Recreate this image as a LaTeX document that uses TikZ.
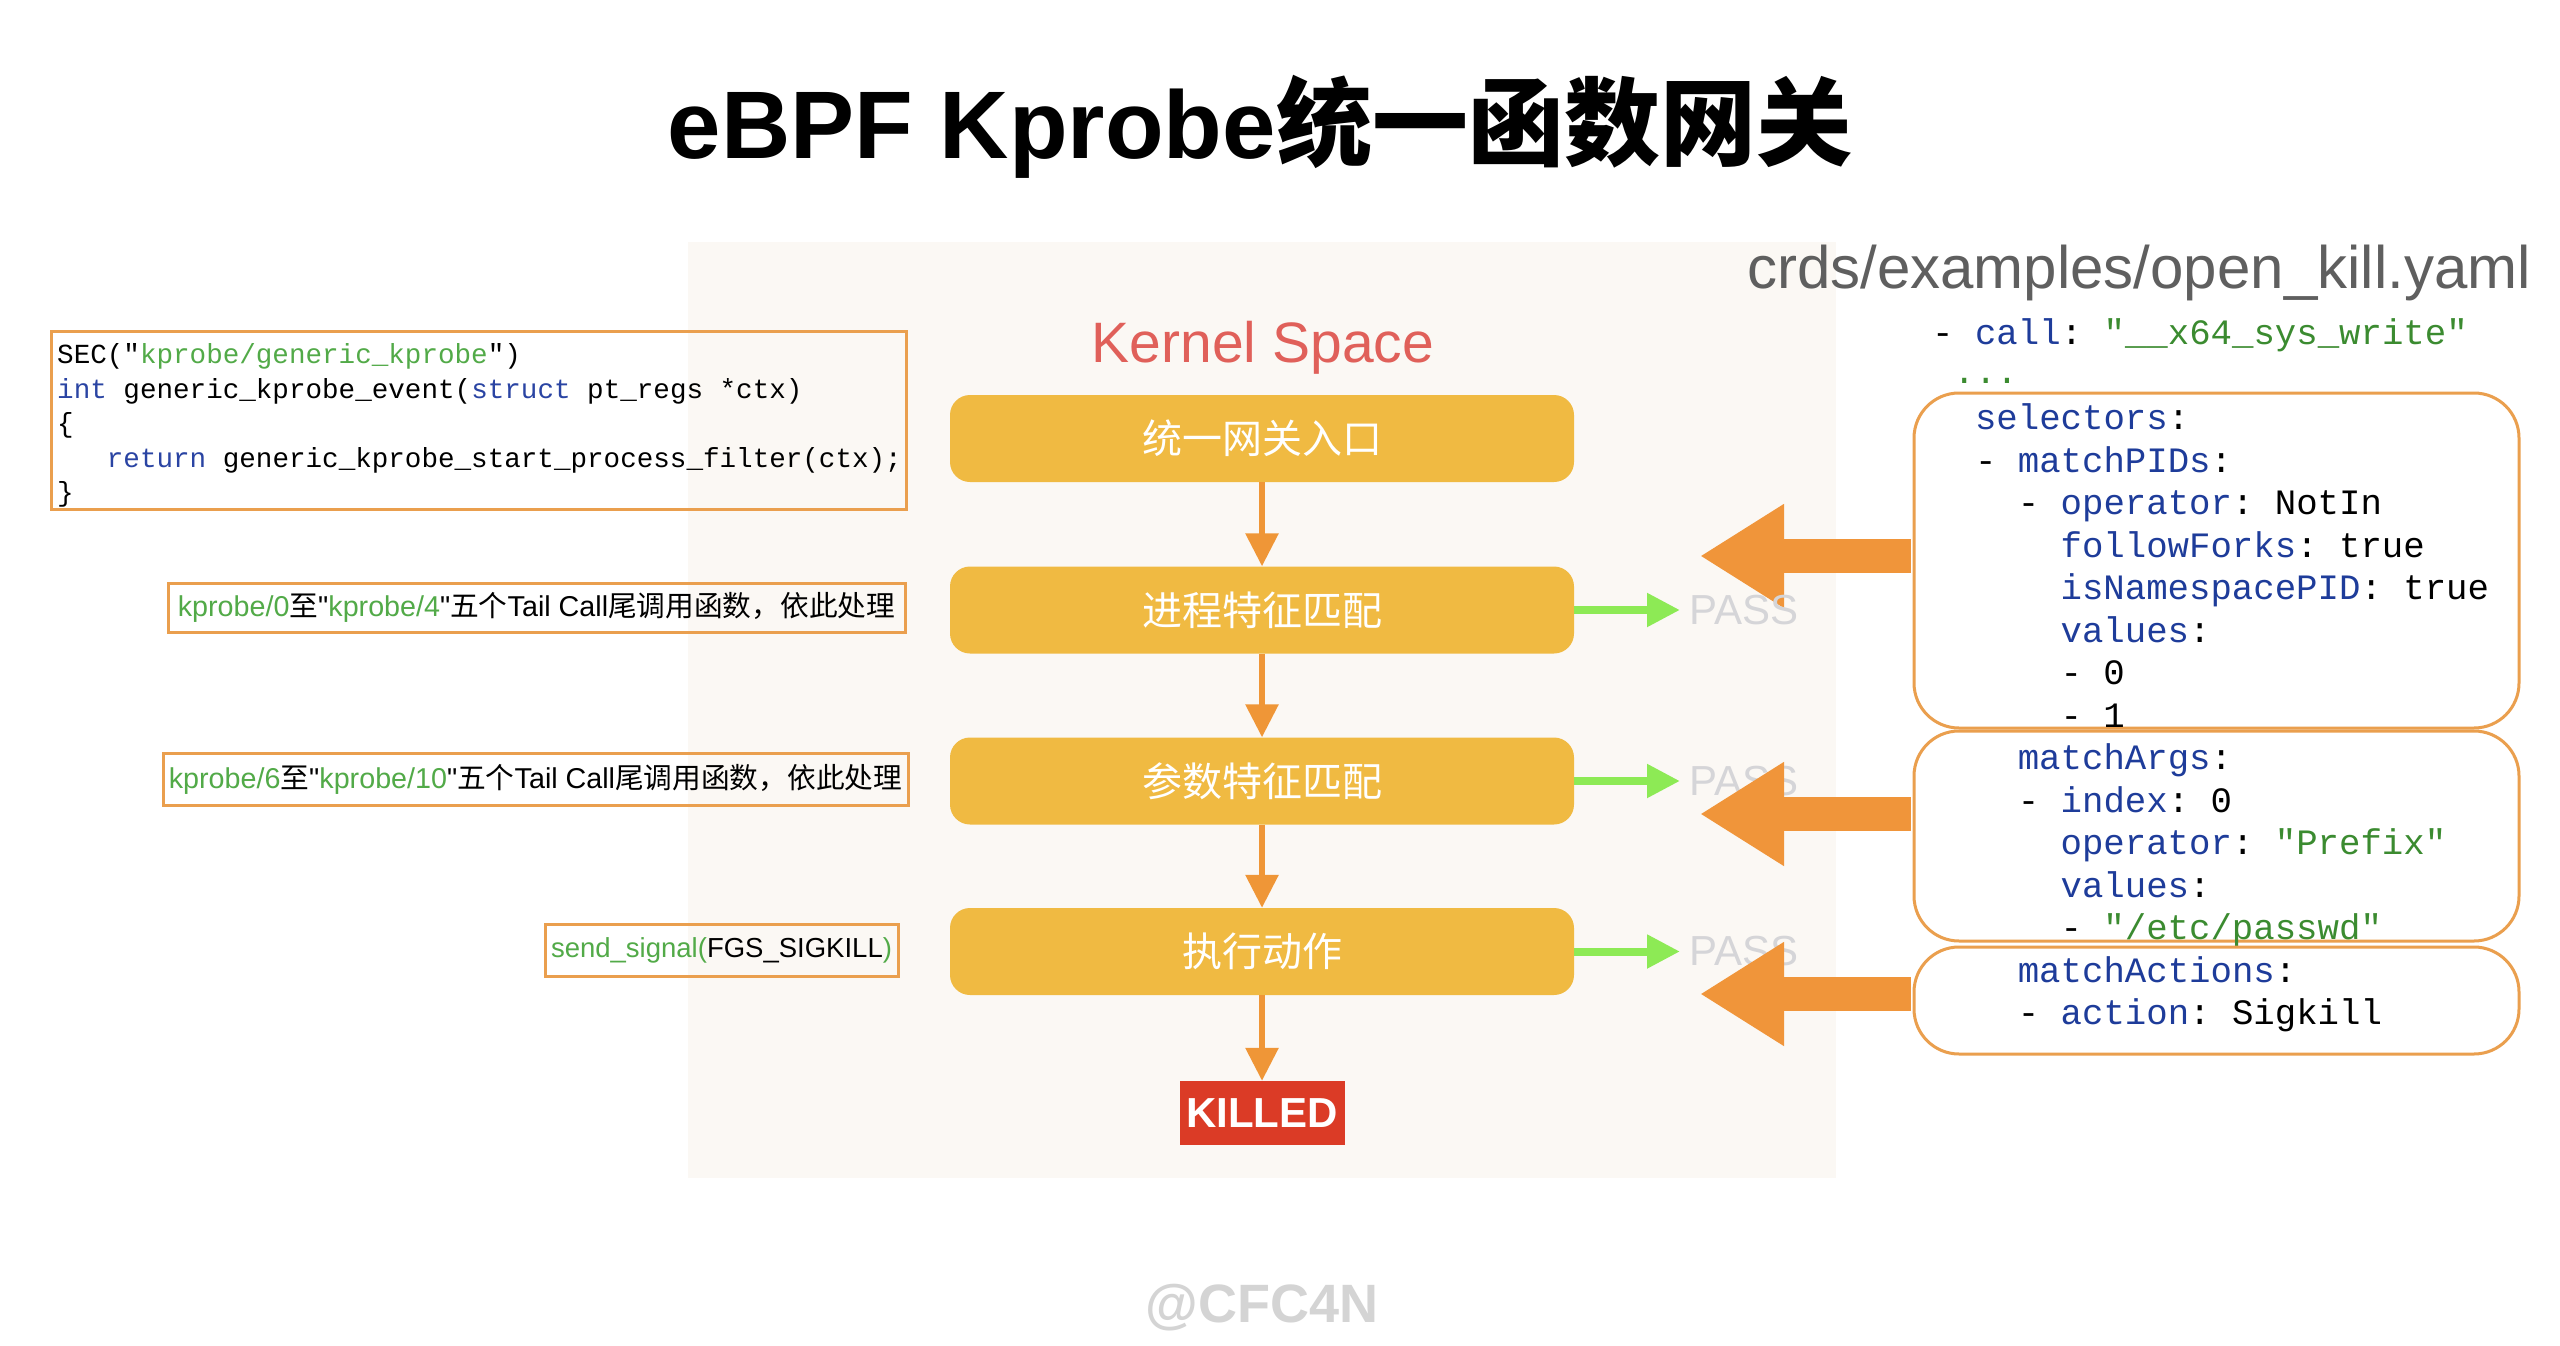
\documentclass[tikz,border=0pt]{standalone}
\usepackage{fontspec}
\setmainfont{Liberation Sans}
\setmonofont{Liberation Mono}
\newfontfamily\cjk{Noto Sans CJK SC}
\newfontfamily\lsplain{Liberation Sans}[Ligatures=TeXOff]
\usetikzlibrary{arrows.meta}
\newcommand{\setfs}[1]{\fontsize{#1}{#1}\selectfont}
\newcommand{\zhs}[1]{{\cjk #1}}
\newcommand{\dq}{{\lsplain\char"22\relax}}
\definecolor{panelbg}{HTML}{FBF8F4}
\definecolor{boxyellow}{HTML}{F0BA42}
\definecolor{flowor}{HTML}{EF9637}
\definecolor{bigor}{HTML}{F0953A}
\definecolor{frameor}{HTML}{EA9F4E}
\definecolor{kred}{HTML}{E0605A}
\definecolor{passgray}{HTML}{D5D5D8}
\definecolor{passgreen}{HTML}{8DEA55}
\definecolor{killred}{HTML}{DB3B26}
\definecolor{lgreen}{HTML}{52AA48}
\definecolor{cblue}{HTML}{2A44A3}
\definecolor{ygreen}{HTML}{3B8B30}
\definecolor{yblue}{HTML}{1E3C9A}
\definecolor{titlegray}{HTML}{5F5F5F}
\definecolor{wmgray}{HTML}{D4D4D4}
\newcommand{\kb}[1]{{\color{yblue}#1}}
\newcommand{\sg}[1]{{\color{ygreen}#1}}
\begin{document}
\begin{tikzpicture}[x=1pt,y=-1pt,
  flowbox/.style={rounded corners=20pt, fill=boxyellow, minimum width=624pt, minimum height=87pt, text=white, font=\cjk\setfs{40}, inner sep=0pt},
  labelbox/.style={draw=frameor, line width=3pt, inner sep=0pt, font=\setfs{28.7}},
  yamlbox/.style={draw=frameor, line width=3pt, fill=white, rounded corners=45pt},
  flow/.style={draw=flowor, line width=6pt, -{Triangle[length=33pt,width=32pt]}},
  passarrow/.style={draw=passgreen, line width=8pt, -{Triangle[length=33pt,width=32pt]}, shorten >=9pt},
  bigarrow/.style={draw=bigor, line width=34pt, -{Triangle[length=84pt,width=98pt]}, shorten <=2pt},
  passtxt/.style={text=passgray, font=\setfs{42}, anchor=west, inner sep=0pt},
  yl/.style={anchor=mid west, inner sep=0pt, font=\ttfamily\setfs{35.7}},
  cl/.style={anchor=mid west, inner sep=0pt, font=\ttfamily\setfs{27.6}}
]
\useasboundingbox (0,0) rectangle (2560,1346);
\fill[white] (0,0) rectangle (2560,1346);

% panel
\fill[panelbg] (688,242) rectangle (1836,1178);

% titles
\node[anchor=base, inner sep=0pt, font=\bfseries\setfs{96}] (title) at (1260,158) {eBPF Kprobe{\cjk\bfseries 统一函数网关}};
\node[anchor=base, inner sep=0pt, text=kred, font=\setfs{57}] (kspace) at (1263,362) {Kernel Space};
\node[anchor=base east, inner sep=0pt, text=titlegray, font=\setfs{60}] (crds) at (2531,288) {crds/examples/open\_kill.yaml};
\node[anchor=base, inner sep=0pt, text=wmgray, font=\bfseries\setfs{54}] (wm) at (1262,1322) {@CFC4N};

% flow boxes
\node[flowbox] (b1) at (1262,438.5) {统一网关入口};
\node[flowbox] (b2) at (1262,610) {进程特征匹配};
\node[flowbox] (b3) at (1262,781) {参数特征匹配};
\node[flowbox] (b4) at (1262,951.5) {执行动作};
\node[fill=killred, minimum width=165pt, minimum height=64pt, inner sep=0pt, text=white, font=\bfseries\setfs{42}] (kill) at (1262,1113) {KILLED};

\draw[flow] (b1.south) -- (b2.north);
\draw[flow] (b2.south) -- (b3.north);
\draw[flow] (b3.south) -- (b4.north);
\draw[flow] (b4.south) -- (kill.north);

% code box
\node[draw=frameor, line width=3pt, minimum width=855pt, minimum height=178pt, inner sep=0pt] (code) at (478.5,420) {};
\node[cl] (c1) at (57,361) {SEC("{\color{lgreen}kprobe/generic\_kprobe}")};
\node[cl] (c2) at (57,395.5) {{\color{cblue}int} generic\_kprobe\_event({\color{cblue}struct} pt\_regs *ctx)};
\node[cl] (c3) at (57,430) {\{};
\node[cl] (c4) at (106.7,464.5) {{\color{cblue}return} generic\_kprobe\_start\_process\_filter(ctx);};
\node[cl] (c5) at (57,499) {\}};

% label boxes
\node[labelbox, minimum width=737pt, minimum height=49pt] (l2) at (536.5,607.5) {{\color{lgreen}kprobe/0}\zhs{至}\dq{\color{lgreen}kprobe/4}\dq\zhs{五个}Tail Call\zhs{尾调用函数，依此处理}};
\node[labelbox, minimum width=745pt, minimum height=52pt] (l3) at (535.5,779) {{\color{lgreen}kprobe/6}\zhs{至}\dq{\color{lgreen}kprobe/10}\dq\zhs{五个}Tail Call\zhs{尾调用函数，依此处理}};
\node[labelbox, minimum width=353pt, minimum height=52pt, font=\setfs{27.5}] (l4) at (721.5,950.5) {{\color{lgreen}send\_signal(}FGS\_SIGKILL{\color{lgreen})}};

% yaml boxes and text
\node[yamlbox, minimum width=605pt, minimum height=335pt] (ya) at (2216.5,560.5) {};
\node[yl] (y1) at (1932,342) {- \kb{call}: \sg{"\_\_x64\_sys\_write"}};
\node[yl] (y2) at (1953.4,381) {\sg{...}};
\node[yl] (y3) at (1974.8,427) {\kb{selectors}:};
\node[yl] (y4) at (1974.8,469.5) {- \kb{matchPIDs}:};
\node[yl] (y5) at (2017.6,512) {- \kb{operator}: NotIn};
\node[yl] (y6) at (2060.4,554.5) {\kb{followForks}: true};
\node[yl] (y7) at (2060.4,597) {\kb{isNamespacePID}: true};
\node[yl] (y8) at (2060.4,639.5) {\kb{values}:};
\node[yl] (y9) at (2060.4,682) {- 0};
\node[yl] (y10) at (2060.4,724.5) {- 1};

\node[yamlbox, minimum width=605pt, minimum height=210pt] (yb) at (2216.5,836) {};
\node[yl] (y11) at (2017.6,767) {\kb{matchArgs}:};
\node[yl] (y12) at (2017.6,809.5) {- \kb{index}: 0};
\node[yl] (y13) at (2060.4,852) {\kb{operator}: \sg{"Prefix"}};
\node[yl] (y14) at (2060.4,894.5) {\kb{values}:};
\node[yl] (y15) at (2060.4,937) {- \sg{"/etc/passwd"}};

\node[yamlbox, minimum width=605pt, minimum height=107pt] (yc) at (2216.5,1000.5) {};
\node[yl] (y16) at (2017.6,979.5) {\kb{matchActions}:};
\node[yl] (y17) at (2017.6,1022) {- \kb{action}: Sigkill};

% big arrows and PASS
\coordinate (t1) at (1700,556);
\coordinate (t2) at (1700,814);
\coordinate (t3) at (1700,994);
\draw[bigarrow] (t1 -| ya.west) -- (t1);

\node[passtxt] (p2) at (1689,610) {PASS};
\node[passtxt] (p3) at (1689,781) {PASS};
\node[passtxt] (p4) at (1689,951.5) {PASS};
\draw[passarrow] (b2.east) -- (p2.west);
\draw[passarrow] (b3.east) -- (p3.west);
\draw[passarrow] (b4.east) -- (p4.west);

\draw[bigarrow] (t2 -| yb.west) -- (t2);
\draw[bigarrow] (t3 -| yc.west) -- (t3);
\end{tikzpicture}
\end{document}
